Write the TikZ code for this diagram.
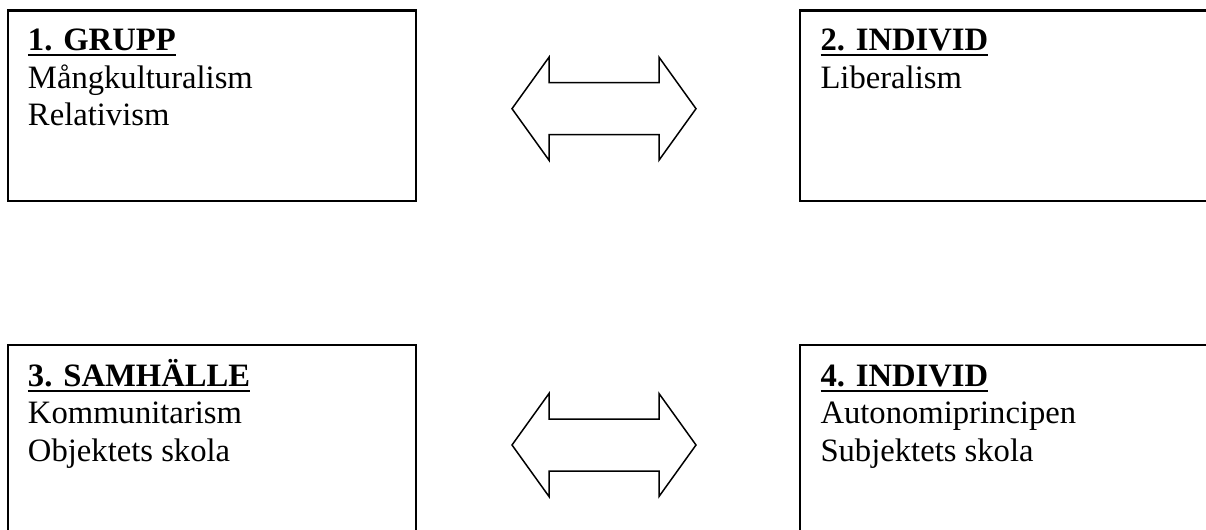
\documentclass[tikz,border=0pt]{standalone}
\usepackage{fontspec}
\setmainfont{Liberation Serif}
\usetikzlibrary{calc}
\newcommand\hd[1]{\setbox0=\hbox{\bfseries #1}\rlap{\rule[-2.2pt]{\wd0}{0.74pt}}\box0}
\tikzset{
  boxframe/.style={draw=black, line width=0.74pt, rectangle, anchor=north west,
    minimum width=150pt, minimum height=70.2pt, inner sep=0pt, outer sep=0pt},
  boxtxt/.style={anchor=base west, inner sep=0pt, outer sep=0pt,
    font=\fontsize{12}{13.79}\selectfont},
  arrowline/.style={draw=black, line width=0.55pt, line join=miter},
  dblarrow/.pic={
    \draw[arrowline] (-92,0) -- (-55,-51.5) -- (-55,-26) -- (55,-26) -- (55,-51.5)
      -- (92,0) -- (55,51.5) -- (55,26) -- (-55,26) -- (-55,51.5) -- cycle;
  }
}
\begin{document}
\begin{tikzpicture}[x=0.3676pt, y=-0.3676pt]
\useasboundingbox (0,0) rectangle (1206,530);
\clip (0,0) rectangle (1206,530);
% boxes
\node[boxframe] (b1) at (8,10.5) {};
\node[boxframe] (b2) at (800,10.5) {};
\node[boxframe] (b3) at (8,345) {};
\node[boxframe] (b4) at (800,345) {};
% texts
\node[boxtxt] (t1) at ($(b1.north west)+(20,40)$)
  {\vtop{\hbox{\hd{1. GRUPP}}\hbox{Mångkulturalism}\hbox{Relativism}}};
\node[boxtxt] (t2) at ($(b2.north west)+(20.5,40)$)
  {\vtop{\hbox{\hd{2. INDIVID}}\hbox{Liberalism}}};
\node[boxtxt] (t3) at ($(b3.north west)+(20,41)$)
  {\vtop{\hbox{\hd{3. SAMHÄLLE}}\hbox{Kommunitarism}\hbox{Objektets skola}}};
\node[boxtxt] (t4) at ($(b4.north west)+(20.5,41)$)
  {\vtop{\hbox{\hd{4. INDIVID}}\hbox{Autonomiprincipen}\hbox{Subjektets skola}}};
% double arrows
\coordinate (a1) at (604,108.7);
\coordinate (a2) at (604,445);
\pic at (a1) {dblarrow};
\pic at (a2) {dblarrow};
\end{tikzpicture}
\end{document}
